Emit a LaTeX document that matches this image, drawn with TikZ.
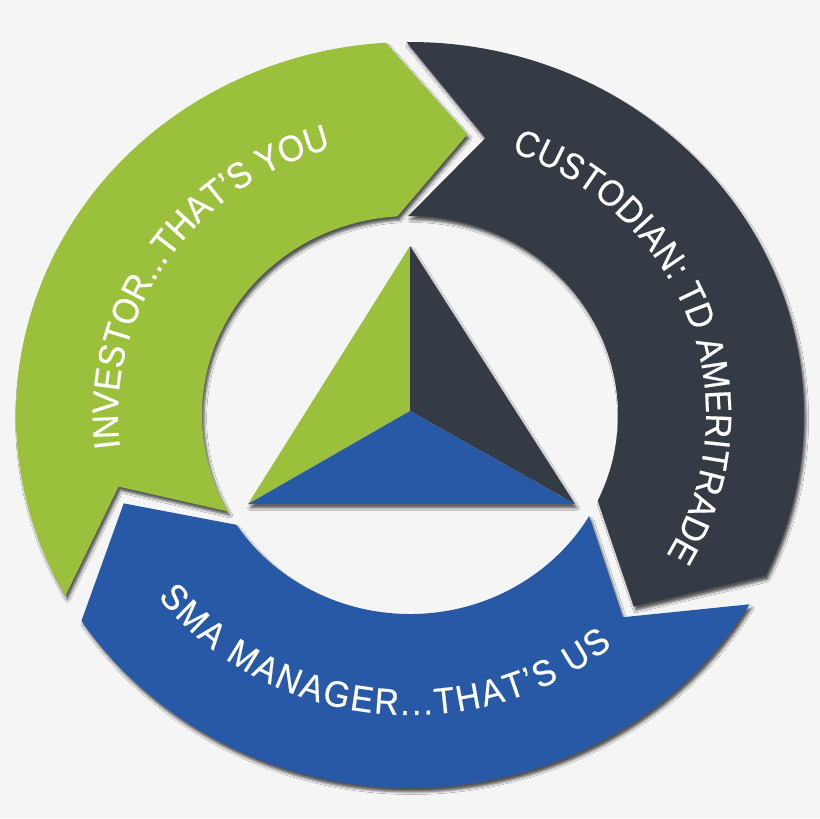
\documentclass[tikz,border=0pt]{standalone}
\usepackage{fontspec}
\setmainfont{Liberation Sans}
\newfontfamily\ringfamily[FakeStretch=0.92, FakeBold=0.4]{Liberation Sans}
\usetikzlibrary{decorations.text,shadows.blur}

\definecolor{ringgreen}{HTML}{9BC13C}
\definecolor{ringdark}{HTML}{343B45}
\definecolor{ringblue}{HTML}{2859A6}
\definecolor{paper}{HTML}{F5F5F5}

\newcommand{\ringfont}{\ringfamily\fontsize{26}{30}\selectfont}

\begin{document}
\begin{tikzpicture}[x=0.025cm, y=0.025cm,
    segshadow/.style={blur shadow={shadow xshift=1.5pt, shadow yshift=-2.8pt, shadow blur radius=1.8pt, shadow opacity=65}},
    ringtext/.style={decorate, decoration={text along path, text align={fit to path}, text color=white, text={#1}}}]

\useasboundingbox (-410,-403) rectangle (410,415);
\fill[paper] (-410,-403) rectangle (410,415);
\coordinate (c) at (0,0);

% ring segments: colour / tail / notch / head / tip
\foreach \col/\tbase/\tnotch/\hbase/\htip in {ringgreen/209/194.5/93.5/79, ringdark/90.5/75.5/-25.5/-42, ringblue/329.5/315/213.5/198}
    \fill[\col, segshadow] (\tbase:394 and 373) arc[start angle=\tbase, end angle=\hbase, x radius=394, y radius=373]
        -- (\htip:301 and 286) -- (\hbase:208 and 199)
        arc[start angle=\hbase, end angle=\tbase, x radius=208, y radius=199]
        -- (\tnotch:301 and 286) -- cycle;

\coordinate (apex) at (0,169);
\coordinate (lcorner) at (-162,-89);
\coordinate (rcorner) at (165,-89);
\coordinate (hub) at (0,4);

\fill[paper, segshadow] (apex) -- (rcorner) -- (lcorner) -- cycle;
\fill[ringgreen] (apex) -- (hub) -- (lcorner) -- cycle;
\fill[ringdark] (apex) -- (rcorner) -- (hub) -- cycle;
\fill[ringblue] (lcorner) -- (hub) -- (rcorner) -- cycle;

\path[ringtext={|\ringfont|INVESTOR...THAT’S YOU}] (186.8:292 and 277) arc[start angle=186.8, end angle=106.9, x radius=292, y radius=277];
\path[ringtext={|\ringfont|CUSTODIAN: TD AMERITRADE}] (70:296 and 280) arc[start angle=70, end angle=-30, x radius=296, y radius=280];
\path[ringtext={|\ringfont|SMA MANAGER...THAT’S US}] (217.3:317 and 300) arc[start angle=217.3, end angle=309.7, x radius=317, y radius=300];

\end{tikzpicture}
\end{document}
